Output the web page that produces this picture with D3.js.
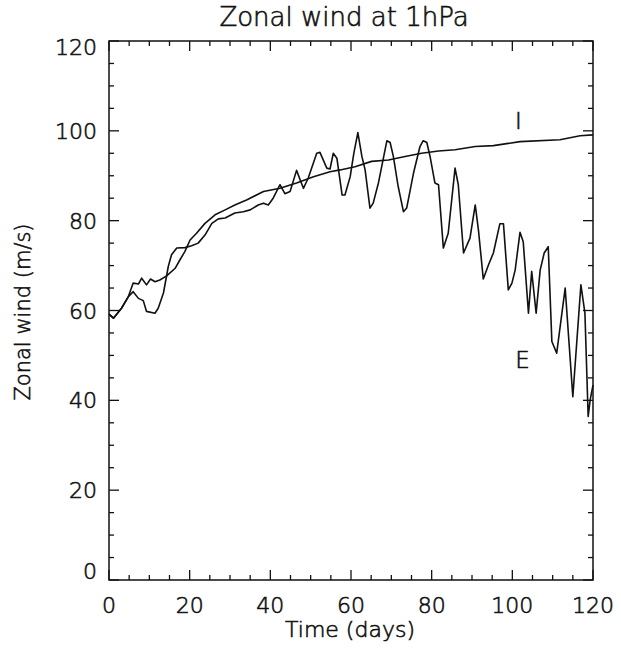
<!DOCTYPE html>
<html>
<head>
<meta charset="utf-8">
<script src="https://cdn.jsdelivr.net/npm/d3@7"></script>
<style>
  body { margin: 0; background: #fff; }
  text { font-family: "DejaVu Sans", sans-serif; font-weight: 200; fill: #111; stroke: #111; stroke-width: 0.6px; }
</style>
</head>
<body>
<div id="chart"></div>
<script>

// run E (oscillating)
const eDays = [0, 1.1, 3.1, 4.8, 6.0, 7.3, 8.5, 9.3, 11.4, 12.2, 13.5, 14.7, 15.5, 16.8, 18.8, 20.5,
  22.1, 23.8, 25.5, 27.1, 28.8, 31.2, 33.3, 35.0, 37.0, 38.3, 39.5, 40.7, 42.4, 43.6, 44.9, 46.5,
  48.2, 49.4, 51.5, 52.3, 54.0, 54.8, 55.6, 56.5, 57.8, 58.5, 59.8, 60.7, 61.7, 62.7, 63.5, 64.7,
  65.5, 66.8, 68.9, 69.7, 70.5, 71.7, 73.0, 73.8, 75.5, 77.1, 77.9, 78.8, 79.6, 80.8, 81.7, 82.9,
  84.1, 85.8, 86.6, 87.9, 89.5, 90.8, 91.6, 92.8, 94.1, 95.3, 96.9, 97.8, 99.0, 99.9, 100.7, 101.9,
  102.7, 104.0, 104.8, 105.9, 106.9, 107.9, 108.9, 109.8, 111.0, 113.1, 115.0, 117.0, 118.0, 118.8,
  119.3, 120];
const eWind = [59.2, 58.3, 60.5, 63.1, 64.2, 62.7, 62.2, 59.8, 59.4, 60.5, 63.9, 69.8, 72.4, 73.9, 74.0, 74.4,
  75.0, 76.8, 79.4, 80.4, 80.6, 81.7, 82.0, 82.4, 83.5, 83.9, 83.5, 85.0, 88.0, 86.0, 86.5, 91.2,
  87.2, 89.5, 95.0, 95.2, 91.7, 91.5, 95.0, 93.9, 85.7, 85.7, 89.8, 95.0, 99.6, 94.3, 91.3, 82.8,
  83.9, 88.4, 97.8, 97.4, 94.3, 87.6, 82.0, 82.8, 90.6, 96.5, 97.8, 97.4, 94.3, 88.4, 88.0, 73.9,
  77.2, 91.7, 88.0, 72.8, 76.1, 83.5, 77.9, 67.0, 70.2, 72.8, 79.3, 79.3, 64.6, 66.1, 69.0, 77.4,
  75.3, 59.4, 68.7, 59.4, 69.0, 72.8, 74.2, 53.1, 50.5, 65.0, 40.8, 65.7, 59.4, 36.4,
  40.1, 43.4];

// run I (smooth)
const iDays = [0, 1.1, 3.1, 4.8, 6.0, 7.3, 8.1, 9.3, 10.3, 11.4, 12.6, 14.3, 16.4, 17.6, 18.8, 20.1,
  21.7, 23.8, 26.3, 28.8, 31.2, 34.1, 38.3, 42.4, 46.5, 50.7, 54.8, 57.3, 61.0, 65.1, 69.3, 73.4,
  77.5, 81.7, 85.8, 90.8, 95.3, 101.9, 111.8, 116.8, 120];
const iWind = [59.2, 58.3, 60.5, 63.1, 66.1, 65.9, 67.2, 65.7, 67.0, 66.4, 66.8, 67.7, 69.4, 71.3, 73.1, 75.7,
  77.2, 79.4, 81.3, 82.4, 83.5, 84.6, 86.5, 87.2, 88.4, 89.8, 90.9, 91.3, 92.0, 93.2, 93.5, 94.3,
  95.0, 95.5, 95.8, 96.5, 96.7, 97.6, 98.0, 98.9, 99.1];

const xTicks = [0, 20, 40, 60, 80, 100, 120];
const yTicks = [0, 20, 40, 60, 80, 100, 120];
const minorStep = 5;

const titleText = 'Zonal wind at 1hPa';
const xTitle = 'Time (days)';
const yTitle = 'Zonal wind (m/s)';

let dimensions = {
    width: 621,
    height: 649,
    left: 109,
    right: 593,
    top: 41,
    bottom: 580,
};

const wrapper = d3.select('#chart');

let svg = wrapper.append('svg')
    .attr('width', dimensions.width)
    .attr('height', dimensions.height);

let bounds = svg.append('g');

// scales
let xScale = d3.scaleLinear()
    .domain([0, 120])
    .range([dimensions.left, dimensions.right]);

let yScale = d3.scaleLinear()
    .domain([0, 120])
    .range([dimensions.bottom, dimensions.top]);

// frame
bounds.append('rect')
    .attr('x', dimensions.left)
    .attr('y', dimensions.top)
    .attr('width', dimensions.right - dimensions.left)
    .attr('height', dimensions.bottom - dimensions.top)
    .style('fill', 'none')
    .style('stroke', '#111')
    .style('stroke-width', 1.5);

// ticks, inward on all 4 sides
const minors = d3.range(0, 121, minorStep);
const tickLen = v => (v % 20 === 0 ? 10 : 5);

bounds.selectAll('.xtick-b').data(minors).join('line')
    .attr('x1', d => xScale(d)).attr('x2', d => xScale(d))
    .attr('y1', dimensions.bottom).attr('y2', d => dimensions.bottom - tickLen(d))
    .style('stroke', '#111').style('stroke-width', 1.3);

bounds.selectAll('.xtick-t').data(minors).join('line')
    .attr('x1', d => xScale(d)).attr('x2', d => xScale(d))
    .attr('y1', dimensions.top).attr('y2', d => dimensions.top + tickLen(d))
    .style('stroke', '#111').style('stroke-width', 1.3);

bounds.selectAll('.ytick-l').data(minors).join('line')
    .attr('y1', d => yScale(d)).attr('y2', d => yScale(d))
    .attr('x1', dimensions.left).attr('x2', d => dimensions.left + tickLen(d))
    .style('stroke', '#111').style('stroke-width', 1.3);

bounds.selectAll('.ytick-r').data(minors).join('line')
    .attr('y1', d => yScale(d)).attr('y2', d => yScale(d))
    .attr('x1', dimensions.right).attr('x2', d => dimensions.right - tickLen(d))
    .style('stroke', '#111').style('stroke-width', 1.3);

// tick labels
bounds.selectAll('.xlab').data(xTicks).join('text')
    .attr('x', d => xScale(d))
    .attr('y', dimensions.bottom + 33)
    .attr('text-anchor', 'middle')
    .style('font-size', '22px')
    .text(d => d);

bounds.selectAll('.ylab').data(yTicks).join('text')
    .attr('x', dimensions.left - 12)
    .attr('y', d => yScale(d) + 8 + (d === 0 ? -9 : 0) + (d === 120 ? 6 : 0))
    .attr('text-anchor', 'end')
    .style('font-size', '22px')
    .text(d => d);

// titles
bounds.append('text')
    .attr('x', 344).attr('y', 26)
    .attr('text-anchor', 'middle')
    .style('font-size', '26px')
    .text(titleText);

bounds.append('text')
    .attr('x', 350).attr('y', 637)
    .attr('text-anchor', 'middle')
    .style('font-size', '22px')
    .text(xTitle);

bounds.append('text')
    .attr('transform', 'translate(30,312) rotate(-90)')
    .attr('text-anchor', 'middle')
    .style('font-size', '21px')
    .text(yTitle);

// lines
let lineGen = d3.line()
    .x(d => xScale(d[0]))
    .y(d => yScale(d[1]));

bounds.append('path')
    .attr('d', lineGen(d3.zip(iDays, iWind)))
    .style('fill', 'none')
    .style('stroke', '#111')
    .style('stroke-width', 1.6)
    .style('stroke-linejoin', 'round');

bounds.append('path')
    .attr('d', lineGen(d3.zip(eDays, eWind)))
    .style('fill', 'none')
    .style('stroke', '#111')
    .style('stroke-width', 1.6)
    .style('stroke-linejoin', 'round');

// curve labels
bounds.append('text')
    .attr('x', xScale(101.5)).attr('y', yScale(100.3))
    .attr('text-anchor', 'middle')
    .style('font-size', '23px')
    .text('I');

bounds.append('text')
    .attr('x', xScale(102.5)).attr('y', yScale(47.3))
    .attr('text-anchor', 'middle')
    .style('font-size', '23px')
    .text('E');

</script>
</body>
</html>
